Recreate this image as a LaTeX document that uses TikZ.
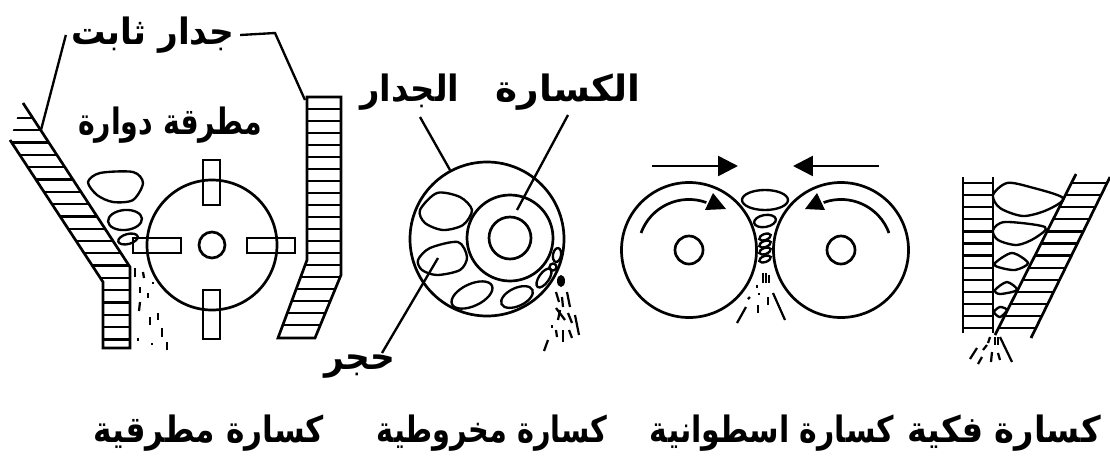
\documentclass[tikz,border=0pt]{standalone}
\usepackage{fontspec}
\newfontfamily\arabicfont[Script=Arabic]{DejaVu Sans}
\TeXXeTstate=1
\usetikzlibrary{arrows.meta}
\tikzset{
  wallline/.style={line width=2.3pt},
  hatch/.style={line width=2pt},
  stone/.style={line width=2pt},
  chip/.style={line width=1.9pt},
  leader/.style={line width=2pt},
  bigarrow/.style={line width=2.2pt,-{Triangle[length=17pt,width=17pt]}},
  arlabel/.style={inner sep=0pt,outer sep=5pt,transform shape,xscale=.86,font=\arabicfont\bfseries\fontsize{31}{36}\selectfont},
}
\begin{document}
\begin{tikzpicture}[x=0.03cm,y=-0.03cm]
  \useasboundingbox (0,0) rectangle (1110,465);
  % labels
  \node[arlabel,xscale=1.1] (fixedwall) at (153,35) {\beginR جدار ثابت\endR};
  \node[arlabel,xscale=.91] (hammer) at (170,125) {\beginR مطرقة دوارة\endR};
  \node[arlabel,xscale=1.08] (conewall) at (410,92) {\beginR الجدار\endR};
  \node[arlabel,xscale=1.2] (cruncher) at (568,92) {\beginR الكسارة\endR};
  \node[arlabel,xscale=1.1] (rock) at (360,367) {\beginR حجر\endR};
  \node[arlabel] (capa) at (209,433) {\beginR كسارة مطرقية\endR};
  \node[arlabel,xscale=.92] (capb) at (492,433) {\beginR كسارة مخروطية\endR};
  \node[arlabel,xscale=.96] (capc) at (772,433) {\beginR كسارة اسطوانية\endR};
  \node[arlabel,xscale=1.08] (capd) at (1004,433) {\beginR كسارة فكية\endR};
  % hammer crusher
  \coordinate (fixa) at (41,130);
  \coordinate (fixb) at (305,100);
  \draw[leader] (fixa) -- (fixedwall.west);
  \draw[leader] (fixedwall.east) -- (275,33) -- (fixb);
  \begin{scope}
    \clip (23,103) -- (130,267) -- (130,348) -- (103,348) -- (103,282) -- (10,140) -- (17,118) -- cycle;
    \foreach \y in {118,130.3,...,350} \draw[hatch] (0,\y) -- (140,\y);
  \end{scope}
  \draw[wallline] (23,103) -- (130,267) -- (130,348) -- (103,348) -- (103,282) -- (10,140);
  \begin{scope}
    \clip (307,97) -- (341,97) -- (341,275) -- (315,338) -- (278,338) -- (307,260) -- cycle;
    \foreach \y in {109,121,...,335} \draw[hatch] (270,\y) -- (345,\y);
  \end{scope}
  \draw[wallline] (307,97) -- (341,97) -- (341,275) -- (315,338) -- (278,338) -- (307,260) -- cycle;
  \draw[wallline] (212,245) circle (65);
  \draw[wallline] (212,245) circle (13);
  \draw[wallline] (203,160) rectangle (220,205);
  \draw[wallline] (203,290) rectangle (220,339);
  \draw[wallline] (133,238) rectangle (181,253);
  \draw[wallline] (247,238) rectangle (295,253);
  \draw[stone] plot[smooth cycle] coordinates {(88,182) (100,173) (133,172) (143,183) (133,200) (113,202) (97,195)};
  \draw[stone] (125,220) ellipse [x radius=17,y radius=10,rotate=5];
  \draw[stone] (128,239) ellipse [x radius=10,y radius=5,rotate=15];
  \foreach \a/\b/\c/\d in {135/268/135/277,143/272/144/278,153/282/153/284,140/287/140/293,148/293/148/298,
    140/302/139/311,158/313/158/320,150/317/150/325,138/338/138/341,152/343/152/345,162/328/162/337,167/342/167/350}
    \draw[chip] (\a,\b) -- (\c,\d);
  % cone crusher
  \draw[wallline] (487,239) circle (77);
  \draw[wallline] (510,238) circle (43);
  \draw[wallline] (510,238) circle (21);
  \draw[leader] (420,117) -- (450,170);
  \draw[leader] (568,115) -- (517,210);
  \draw[leader] (438,258) -- (382,353);
  \draw[stone] plot[smooth cycle] coordinates {(420,210) (437,193) (460,197) (472,210) (463,225) (443,230) (425,223)};
  \draw[stone] plot[smooth cycle] coordinates {(418,260) (430,248) (458,242) (467,257) (460,270) (437,275) (422,270)};
  \draw[stone] (472,295) ellipse [x radius=22,y radius=11,rotate=25];
  \draw[stone] (517,297) ellipse [x radius=17,y radius=9,rotate=25];
  \draw[stone] (544,278) ellipse [x radius=11,y radius=5,rotate=55];
  \draw[stone] (557,255) ellipse [x radius=4,y radius=7,rotate=-10];
  \draw[stone] (553,267) circle (3.5);
  \fill (561,281) ellipse [x radius=4,y radius=6];
  \foreach \a/\b/\c/\d in {556/292/559/302,567/292/570/307,562/297/563/307,556/308/565/320,560/310/558/320,
    568/313/572/323,575/315/579/335,552/325/552/328,556/330/557/337,563/330/563/342,569/330/572/338,548/340/544/351}
    \draw[chip] (\a,\b) -- (\c,\d);
  % roller crusher
  \draw[wallline] (689,250) circle (67.5);
  \draw[wallline] (841,250) circle (67.5);
  \draw[wallline] (689,250) circle (14);
  \draw[wallline] (841,250) circle (14);
  \draw[bigarrow] (652,166) -- (738,166);
  \draw[bigarrow] (879,166) -- (793,166);
  \draw[wallline] (641,233) arc (-160:-70:51);
  \draw[wallline] (889,233) arc (-20:-110:51);
  \fill (726,209) -- (713,193) -- (705,210) -- cycle;
  \fill (805,209) -- (817,193) -- (825,210) -- cycle;
  \draw[stone] (765,200) ellipse [x radius=23,y radius=10];
  \draw[stone] (765,221) ellipse [x radius=11,y radius=6,rotate=10];
  \foreach \y in {237,244,251,259} \draw[stone] (765,\y) ellipse [x radius=6,y radius=3,rotate=20];
  \foreach \a/\b/\c/\d in {763/273/763/283,766/273/766/283,769/275/769/283,757/285/757/288,759/293/759/295,750/297/748/299,
    758/305/758/313,768/297/768/305,773/293/785/320,746/307/737/323}
    \draw[chip] (\a,\b) -- (\c,\d);
  % jaw crusher
  \begin{scope}
    \clip (963,177) -- (993,177) -- (993,333) -- (963,333) -- cycle;
    \foreach \y in {183,195.1,...,330} \draw[hatch] (960,\y) -- (1000,\y);
  \end{scope}
  \draw[wallline] (963,177) -- (963,333);
  \draw[wallline] (993,177) -- (993,333);
  \begin{scope}
    \clip (1076,174) -- (1110,177) -- (1031,338) -- (997,330) -- cycle;
    \foreach \y in {183,195.1,...,330} \draw[hatch] (990,\y) -- (1110,\y);
  \end{scope}
  \draw[wallline] (1076,174) -- (995,335);
  \draw[wallline] (1110,177) -- (1031,338);
  \draw[stone] plot[smooth cycle] coordinates {(993,195) (1007,183) (1030,187) (1063,198) (1047,210) (1023,216) (1000,208)};
  \draw[stone] plot[smooth cycle] coordinates {(993,230) (1005,222) (1045,227) (1035,238) (1017,245) (998,240)};
  \draw[stone] plot[smooth cycle] coordinates {(995,263) (1012,253) (1028,263) (1015,270) (998,267)};
  \draw[stone] plot[smooth cycle] coordinates {(995,290) (1007,282) (1017,290) (1000,294)};
  \draw[stone] plot[smooth cycle] coordinates {(994,312) (1000,307) (1007,310) (1000,317)};
  \foreach \a/\b/\c/\d in {1000/337/1012/362,977/348/970/359,987/345/983/350,982/357/978/364,992/352/991/362,
    998/353/1000/360,995/337/995/345,990/337/988/343,998/337/998/345}
    \draw[chip] (\a,\b) -- (\c,\d);
\end{tikzpicture}
\end{document}
